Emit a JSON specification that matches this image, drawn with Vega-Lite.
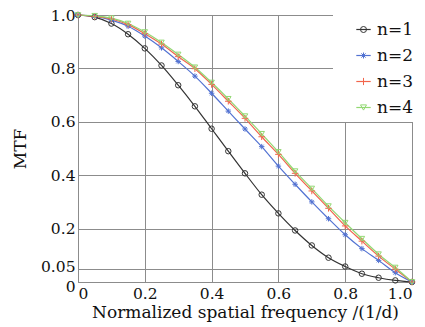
{
  "$schema": "https://vega.github.io/schema/vega-lite/v6.json",
  "width": 334,
  "height": 267,
  "autosize": "none",
  "padding": {"left": 78, "top": 15, "right": 13, "bottom": 45},
  "background": "white",
  "config": {
    "font": "DejaVu Serif",
    "view": {"stroke": "#7a7a7a", "strokeWidth": 1},
    "axis": {
      "grid": true, "gridColor": "#8c8c8c", "gridOpacity": 1, "gridWidth": 1,
      "domain": false, "ticks": false, "labelOverlap": false,
      "labelFont": "DejaVu Serif", "labelFontSize": 15.5, "labelColor": "#111",
      "titleFont": "DejaVu Serif", "titleFontSize": 17, "titleFontWeight": "normal", "titleColor": "#111"
    }
  },
  "data": {"values": [
    {"x":0,"n":"n=1","m":1},{"x":0.05,"n":"n=1","m":0.992},{"x":0.1,"n":"n=1","m":0.968},{"x":0.15,"n":"n=1","m":0.928},{"x":0.2,"n":"n=1","m":0.875},{"x":0.25,"n":"n=1","m":0.811},{"x":0.3,"n":"n=1","m":0.737},{"x":0.35,"n":"n=1","m":0.658},{"x":0.4,"n":"n=1","m":0.574},{"x":0.45,"n":"n=1","m":0.49},{"x":0.5,"n":"n=1","m":0.407},{"x":0.55,"n":"n=1","m":0.327},{"x":0.6,"n":"n=1","m":0.257},{"x":0.65,"n":"n=1","m":0.193},{"x":0.7,"n":"n=1","m":0.137},{"x":0.75,"n":"n=1","m":0.091},{"x":0.8,"n":"n=1","m":0.058},{"x":0.85,"n":"n=1","m":0.031},{"x":0.9,"n":"n=1","m":0.016},{"x":0.95,"n":"n=1","m":0.006},{"x":1,"n":"n=1","m":0},
    {"x":0,"n":"n=2","m":1},{"x":0.05,"n":"n=2","m":0.995},{"x":0.1,"n":"n=2","m":0.981},{"x":0.15,"n":"n=2","m":0.958},{"x":0.2,"n":"n=2","m":0.921},{"x":0.25,"n":"n=2","m":0.877},{"x":0.3,"n":"n=2","m":0.826},{"x":0.35,"n":"n=2","m":0.771},{"x":0.4,"n":"n=2","m":0.707},{"x":0.45,"n":"n=2","m":0.64},{"x":0.5,"n":"n=2","m":0.573},{"x":0.55,"n":"n=2","m":0.507},{"x":0.6,"n":"n=2","m":0.434},{"x":0.65,"n":"n=2","m":0.366},{"x":0.7,"n":"n=2","m":0.3},{"x":0.75,"n":"n=2","m":0.237},{"x":0.8,"n":"n=2","m":0.177},{"x":0.85,"n":"n=2","m":0.125},{"x":0.9,"n":"n=2","m":0.081},{"x":0.95,"n":"n=2","m":0.035},{"x":1,"n":"n=2","m":0},
    {"x":0,"n":"n=3","m":1},{"x":0.05,"n":"n=3","m":0.995},{"x":0.1,"n":"n=3","m":0.985},{"x":0.15,"n":"n=3","m":0.964},{"x":0.2,"n":"n=3","m":0.93},{"x":0.25,"n":"n=3","m":0.891},{"x":0.3,"n":"n=3","m":0.844},{"x":0.35,"n":"n=3","m":0.799},{"x":0.4,"n":"n=3","m":0.74},{"x":0.45,"n":"n=3","m":0.677},{"x":0.5,"n":"n=3","m":0.613},{"x":0.55,"n":"n=3","m":0.544},{"x":0.6,"n":"n=3","m":0.478},{"x":0.65,"n":"n=3","m":0.407},{"x":0.7,"n":"n=3","m":0.341},{"x":0.75,"n":"n=3","m":0.276},{"x":0.8,"n":"n=3","m":0.21},{"x":0.85,"n":"n=3","m":0.153},{"x":0.9,"n":"n=3","m":0.097},{"x":0.95,"n":"n=3","m":0.048},{"x":1,"n":"n=3","m":0},
    {"x":0,"n":"n=4","m":1},{"x":0.05,"n":"n=4","m":0.997},{"x":0.1,"n":"n=4","m":0.988},{"x":0.15,"n":"n=4","m":0.968},{"x":0.2,"n":"n=4","m":0.936},{"x":0.25,"n":"n=4","m":0.897},{"x":0.3,"n":"n=4","m":0.852},{"x":0.35,"n":"n=4","m":0.804},{"x":0.4,"n":"n=4","m":0.747},{"x":0.45,"n":"n=4","m":0.686},{"x":0.5,"n":"n=4","m":0.621},{"x":0.55,"n":"n=4","m":0.555},{"x":0.6,"n":"n=4","m":0.487},{"x":0.65,"n":"n=4","m":0.415},{"x":0.7,"n":"n=4","m":0.35},{"x":0.75,"n":"n=4","m":0.284},{"x":0.8,"n":"n=4","m":0.222},{"x":0.85,"n":"n=4","m":0.162},{"x":0.9,"n":"n=4","m":0.104},{"x":0.95,"n":"n=4","m":0.054},{"x":1,"n":"n=4","m":0}
  ]},
  "encoding": {
    "x": {"field": "x", "type": "quantitative", "scale": {"domain": [0, 1], "nice": false},
      "axis": {"values": [0, 0.2, 0.4, 0.6, 0.8, 1], "format": "~g", "labelExpr": "datum.value == 1 ? '1.0' : datum.label", "labelPadding": 4, "title": "Normalized spatial frequency /(1/d)", "titlePadding": 3}},
    "y": {"field": "m", "type": "quantitative", "scale": {"domain": [0, 1], "nice": false},
      "axis": {"values": [0, 0.05, 0.2, 0.4, 0.6, 0.8, 1], "format": "~g", "labelExpr": "datum.value == 1 ? '1.0' : datum.label", "labelPadding": 3,
        "labelOffset": {"condition": [{"test": "datum.value == 0", "value": 4}, {"test": "datum.value == 0.05", "value": -2}], "value": 0},
        "title": "MTF", "titlePadding": 11}}
  },
  "layer": [
    {
      "mark": {"type": "line", "strokeWidth": 1.2, "interpolate": "monotone"},
      "encoding": {
        "color": {"field": "n", "type": "nominal",
          "scale": {"domain": ["n=1", "n=2", "n=3", "n=4"], "range": ["#333333", "#5272d2", "#f2654c", "#92d872"]},
          "legend": {"orient": "none", "legendX": 255, "legendY": 0, "padding": 6, "fillColor": "white",
            "title": "\u00a0", "titleOrient": "left", "titleFontSize": 10, "titlePadding": 16,
            "symbolType": "M-2.4,0H2.4", "symbolSize": 36, "symbolStrokeWidth": 1.2,
            "labelFont": "DejaVu Serif", "labelFontSize": 17, "labelColor": "#111", "labelOffset": 5, "rowPadding": 8}}
      }
    },
    {
      "mark": {"type": "point", "filled": false, "size": 30, "strokeWidth": 1, "opacity": 1},
      "encoding": {
        "color": {"field": "n", "type": "nominal",
          "scale": {"domain": ["n=1", "n=2", "n=3", "n=4"], "range": ["#333333", "#5272d2", "#f2654c", "#92d872"]},
          "legend": {"orient": "none", "legendX": 255, "legendY": 0, "padding": 6,
            "title": "\u00a0", "titleOrient": "left", "titleFontSize": 10, "titlePadding": 16,
            "symbolSize": 36, "symbolStrokeWidth": 1, "symbolFillColor": "transparent",
            "labelFont": "DejaVu Serif", "labelFontSize": 17, "labelOpacity": 0, "labelOffset": 5, "rowPadding": 8}},
        "shape": {"field": "n", "type": "nominal",
          "scale": {"domain": ["n=1", "n=2", "n=3", "n=4"], "range": ["circle", "M0,-1V1M-1,0H1M-0.7,-0.7L0.7,0.7M-0.7,0.7L0.7,-0.7", "M0,-1.2V1.2M-1.2,0H1.2", "triangle-down"]},
          "legend": {"orient": "none", "legendX": 255, "legendY": 0, "padding": 6,
            "title": "\u00a0", "titleOrient": "left", "titleFontSize": 10, "titlePadding": 16,
            "symbolSize": 36, "symbolStrokeWidth": 1,
            "labelFont": "DejaVu Serif", "labelFontSize": 17, "labelOpacity": 0, "labelOffset": 5, "rowPadding": 8}}
      }
    }
  ],
  "resolve": {"legend": {"color": "independent", "shape": "independent"}}
}
